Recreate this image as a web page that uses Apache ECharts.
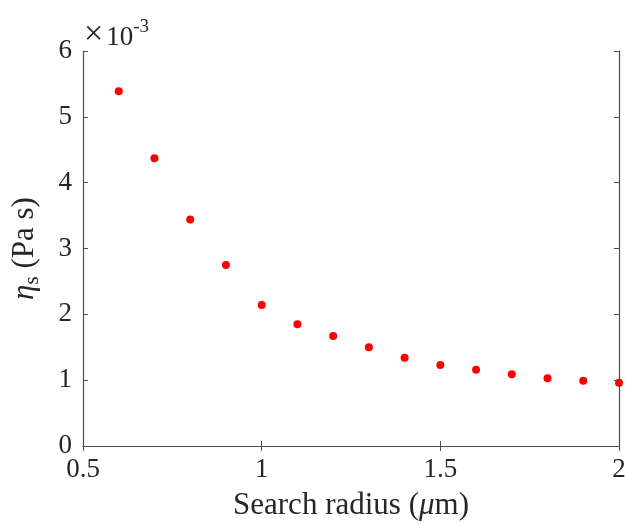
<!DOCTYPE html>
<html>
<head>
<meta charset="utf-8">
<script src="https://cdn.jsdelivr.net/npm/echarts@6/dist/echarts.min.js"></script>
<style>html,body{margin:0;padding:0;background:#fff}#c{width:625px;height:524px}</style>
</head>
<body>
<div id="c"></div>
<script>
const radius = [0.6, 0.7, 0.8, 0.9, 1.0, 1.1, 1.2, 1.3, 1.4, 1.5, 1.6, 1.7, 1.8, 1.9, 2.0];
const viscosity = [5.39, 4.37, 3.44, 2.75, 2.14, 1.85, 1.67, 1.50, 1.34, 1.23, 1.16, 1.09, 1.03, 0.99, 0.96];
const xTicks = [0.5, 1, 1.5, 2];
const yTicks = [0, 1, 2, 3, 4, 5, 6];

const font = '"Liberation Serif", "Times New Roman", serif';
const axisColor = '#4d4d4d';
const textColor = '#262626';
const fs = 27;
const ts = 31;
const chart = echarts.init(document.getElementById('c'));
const common = {
  axisLine: {show: true, lineStyle: {color: axisColor, width: 1.2}},
  axisTick: {show: true, inside: true, length: 5, lineStyle: {color: axisColor}},
  splitLine: {show: false}
};
chart.setOption({
  animation: false,
  grid: {left: 83, right: 6, top: 51, bottom: 78, containLabel: false, outerBoundsMode: 'none'},
  xAxis: [
    Object.assign({
      type: 'value', min: 0.5, max: 2, interval: 0.5, position: 'bottom',
      axisLabel: {fontFamily: font, fontSize: fs, color: textColor, margin: 10,
        formatter: v => String(v)},
      name: '{a|Search radius (}{i|μ}{a|m)}', nameLocation: 'middle', nameGap: 44,
      nameTextStyle: {
        fontFamily: font, fontSize: ts, color: textColor,
        rich: {
          a: {fontFamily: font, fontSize: ts, color: textColor},
          i: {fontFamily: font, fontSize: ts, color: textColor, fontStyle: 'italic'}
        }
      }
    }, common),
    Object.assign({
      type: 'value', min: 0.5, max: 2, interval: 0.5, position: 'top',
      axisLabel: {show: false}
    }, common)
  ],
  yAxis: [
    Object.assign({
      type: 'value', min: 0, max: 6, interval: 1, position: 'left',
      axisLabel: {fontFamily: font, fontSize: fs, color: textColor, margin: 11},
      name: '{i|η}{b|s}{a| (Pa s)}', nameLocation: 'middle', nameGap: 40,
      nameTextStyle: {
        fontFamily: font, fontSize: ts, color: textColor,
        rich: {
          a: {fontFamily: font, fontSize: ts, color: textColor},
          i: {fontFamily: font, fontSize: ts, color: textColor, fontStyle: 'italic'},
          b: {fontFamily: font, fontSize: 21, color: textColor, padding: [16, 0, 0, 0]}
        }
      }
    }, common),
    Object.assign({
      type: 'value', min: 0, max: 6, interval: 1, position: 'right',
      axisLabel: {show: false}
    }, common)
  ],
  graphic: [{
    type: 'text', left: 84, top: 18,
    style: {
      text: '{x|×}{a|10}{b|-3}',
      rich: {
        x: {fontFamily: font, fontSize: 34, fill: textColor, padding: [8, 3, 0, 0]},
        a: {fontFamily: font, fontSize: fs, fill: textColor, padding: [12, 0, 0, 0]},
        b: {fontFamily: font, fontSize: 19, fill: textColor, padding: [0, 0, 8, 0]}
      }
    }
  }],
  series: [{
    type: 'scatter',
    data: radius.map((r, i) => [r, viscosity[i]]),
    symbol: 'circle', symbolSize: 8,
    itemStyle: {color: '#ff0000', opacity: 1},
    clip: false
  }]
});
</script>
</body>
</html>
